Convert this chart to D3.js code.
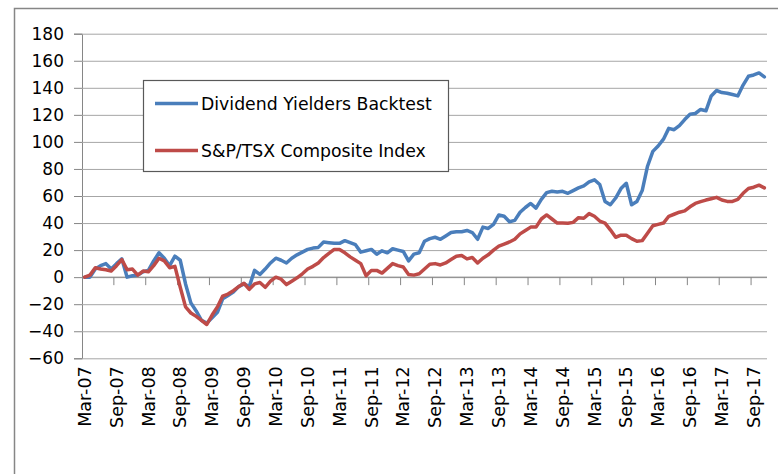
<!DOCTYPE html>
<html>
<head>
<meta charset="utf-8">
<script src="https://cdn.jsdelivr.net/npm/d3@7"></script>
<style>
  html, body { margin: 0; padding: 0; background: #fff; }
  svg { display: block; }
</style>
</head>
<body>
<svg id="chart"></svg>
<script>
// monthly values, Mar-07 .. Nov-17 (129 months), % cumulative return
const seriesNames = ["Dividend Yielders Backtest", "S&P/TSX Composite Index"];
const seriesColors = ["#4A7EBB", "#BE4B48"];

const dividendYielders = [
  0, 0, 6, 8.5, 10, 6, 10, 13.5, 0, 1, 1.5, 4, 5, 12, 18, 14, 8.5, 15.5, 12.5, -5,
  -19, -25, -32, -34, -30, -26, -16, -13.5, -11, -7, -5, -7, 5, 2, 6, 10.5, 14, 12.5, 10.5, 14,
  16.5, 18.5, 20.5, 21.5, 22, 26, 25.5, 25, 25, 27, 25.5, 24, 18.5, 19.5, 20.5, 17, 19.5, 18, 21, 20,
  19, 12, 17, 18, 26.5, 28.5, 29.5, 28, 30.5, 33, 33.6, 33.6, 34.5, 33, 28, 37, 36, 39, 46, 45,
  41, 42, 48, 51.5, 54.5, 51, 57.5, 62.5, 63.5, 63, 63.5, 62, 64, 66, 67.5, 70.5, 72, 68.5, 56, 53.5,
  58.5, 65.5, 69.4, 53.5, 56, 64, 82, 93, 97, 102, 110, 109, 112, 116.5, 120.5, 121, 124, 123, 134, 138,
  136.5, 136, 135, 134, 142, 148.5, 149.5, 151, 148
];

const tsxComposite = [
  0, 1.5, 7, 6, 5.5, 4.5, 8.5, 13, 5.5, 6, 1.5, 4.5, 4, 8.5, 14, 12, 7, 8, -7.5, -22,
  -26.5, -29, -32, -35, -28, -22, -14, -12.5, -10, -7, -4.5, -9, -5, -4, -7.5, -3, 0, -1.5, -5.5, -3,
  -0.5, 2.5, 6, 8, 10.5, 14.5, 17.5, 20.5, 20.5, 18, 15, 12.5, 10, 1, 5, 5, 3, 6.5, 10, 8.5,
  7.5, 2, 1.5, 2.5, 6, 9.5, 10, 9, 10.5, 13, 15.5, 16, 13.5, 14.5, 10.5, 14, 16.5, 20, 23, 24.5,
  26, 28, 32, 34.5, 37, 37, 43, 46, 43, 40, 40, 39.8, 40.5, 44, 43.5, 47, 45, 41.5, 40, 35,
  29.5, 31, 31, 28.5, 26.5, 27, 32.5, 38, 39, 40, 45, 46.5, 48, 49, 52, 54.5, 55.8, 57, 58, 59,
  57, 56, 56, 57.5, 62, 65.5, 66.5, 68, 66
];

const tickLabels = ["Mar-07", "Sep-07", "Mar-08", "Sep-08", "Mar-09", "Sep-09", "Mar-10", "Sep-10",
  "Mar-11", "Sep-11", "Mar-12", "Sep-12", "Mar-13", "Sep-13", "Mar-14", "Sep-14", "Mar-15", "Sep-15",
  "Mar-16", "Sep-16", "Mar-17", "Sep-17"];

const yTicks = [-60, -40, -20, 0, 20, 40, 60, 80, 100, 120, 140, 160, 180];

const labelEvery = 6;

function draw() {
  const width = 778;
  const height = 474;
  const font = "'DejaVu Sans', sans-serif";

  const svg = d3.select("#chart").attr("width", width).attr("height", height);
  svg.selectAll("*").remove();

  // outer chart frame (runs off the right / bottom edge in the original)
  svg.append("rect")
    .attr("x", 14.5).attr("y", 8.5)
    .attr("width", 820).attr("height", 520)
    .attr("fill", "#fff")
    .attr("stroke", "#868686")
    .attr("stroke-width", 1.5);

  const plot = { left: 82, right: 767, top: 33.7, bottom: 358.3 };

  const x = d3.scaleBand()
    .domain(d3.range(dividendYielders.length))
    .range([plot.left, plot.right])
    .padding(0);
  const xc = i => x(i) + x.bandwidth() / 2;

  const y = d3.scaleLinear().domain([-60, 180]).range([plot.bottom, plot.top]);

  // gridlines + value axis
  const yAxis = svg.append("g")
    .attr("transform", `translate(${plot.left},0)`)
    .call(d3.axisLeft(y).tickValues(yTicks).tickSize(8).tickPadding(10).tickFormat(d3.format("d")));
  yAxis.select(".domain").attr("stroke", "#868686");
  yAxis.selectAll(".tick line").attr("stroke", "#868686");
  yAxis.selectAll(".tick text")
    .style("font-family", font).style("font-size", "17px").attr("fill", "#000");
  yAxis.selectAll(".tick").append("line")
    .attr("x1", 0).attr("x2", plot.right - plot.left)
    .attr("stroke", "#a6a6a6").attr("stroke-width", 1);

  // category axis sits on the zero line
  const y0 = y(0);
  const catAxis = svg.append("g");
  catAxis.append("line")
    .attr("x1", plot.left).attr("x2", plot.right)
    .attr("y1", y0).attr("y2", y0)
    .attr("stroke", "#868686").attr("stroke-width", 1);

  const tickIdx = d3.range(0, dividendYielders.length, labelEvery);
  catAxis.selectAll("line.tk")
    .data(tickIdx.slice(1))
    .enter().append("line")
    .attr("class", "tk")
    .attr("x1", d => x(d)).attr("x2", d => x(d))
    .attr("y1", y0).attr("y2", y0 + 8)
    .attr("stroke", "#868686");

  svg.append("g").selectAll("text")
    .data(tickLabels)
    .enter().append("text")
    .attr("transform", (d, k) => `translate(${xc(k * labelEvery)},${plot.bottom + 8}) rotate(-90)`)
    .attr("dy", "0.35em")
    .attr("text-anchor", "end")
    .style("font-family", font)
    .style("font-size", "17.5px")
    .attr("fill", "#000")
    .text(d => d);

  // series lines
  const line = d3.line().x((d, i) => xc(i)).y(d => y(d));
  [dividendYielders, tsxComposite].forEach((vals, s) => {
    svg.append("path")
      .datum(vals)
      .attr("d", line)
      .attr("fill", "none")
      .attr("stroke", seriesColors[s])
      .attr("stroke-width", 3.5)
      .attr("stroke-linejoin", "round")
      .attr("stroke-linecap", "round");
  });

  // legend
  const legend = svg.append("g");
  legend.append("rect")
    .attr("x", 143.5).attr("y", 80.5)
    .attr("width", 305).attr("height", 91)
    .attr("fill", "#fff")
    .attr("stroke", "#595959").attr("stroke-width", 1.2);

  seriesNames.forEach((name, s) => {
    const ly = 103.5 + s * 47;
    legend.append("line")
      .attr("x1", 155).attr("x2", 198)
      .attr("y1", ly).attr("y2", ly)
      .attr("stroke", seriesColors[s]).attr("stroke-width", 3.5);
    legend.append("text")
      .attr("x", 201).attr("y", ly)
      .attr("dy", "0.36em")
      .style("font-family", font)
      .style("font-size", "17.3px")
      .attr("fill", "#000")
      .text(name);
  });
}

draw();
</script>
</body>
</html>
